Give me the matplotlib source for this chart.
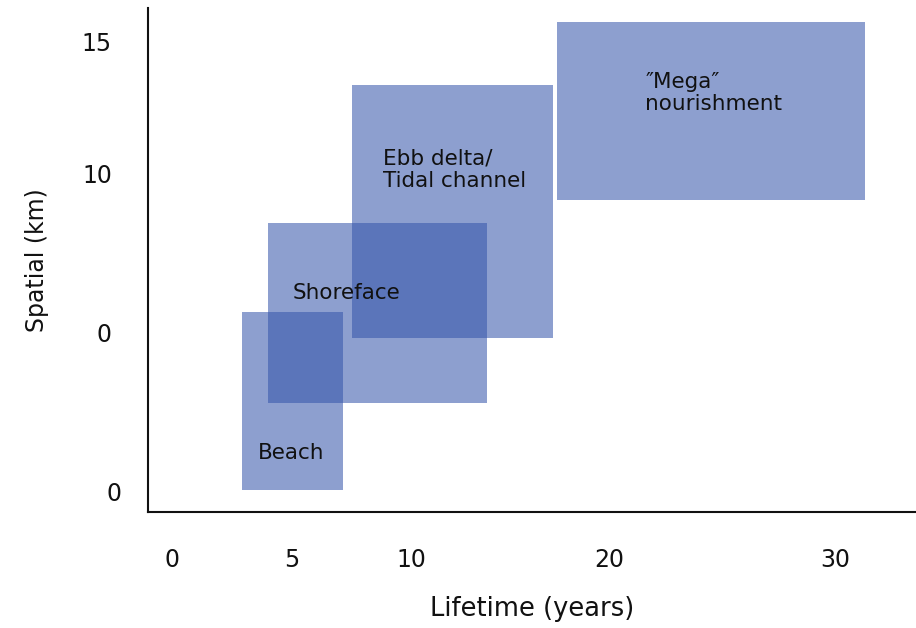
import matplotlib
matplotlib.use("Agg")
import matplotlib.pyplot as plt
import matplotlib.transforms as mtransforms
from matplotlib.patches import Rectangle

plt.rcParams['font.family'] = ['DejaVu Sans']

# Boxes: lifetime (x) and spatial (y) ranges
names = ["Beach", "Shoreface", "Ebb delta/\nTidal channel", "\u2033Mega\u2033\nnourishment"]
x_start = [2.93, 4.02, 7.53, 16.1]
x_end = [7.15, 13.18, 15.94, 29.0]
y_start = [0.07, 2.97, 5.13, 9.73]
y_end = [6.0, 8.97, 13.57, 15.67]

# where each box name is written
label_x = [3.6, 5.06, 8.83, 19.8]
label_y = [1.3, 6.63, 10.75, 13.3]

x_ticks = [0, 5, 10, 18.28, 27.74]
x_tick_labels = ["0", "5", "10", "20", "30"]
y_ticks = [0, 5.3, 10.63, 15]
y_tick_labels = ["0", "0", "10", "15"]

fill = (53 / 255, 84 / 255, 171 / 255)

fig = plt.figure(figsize=(9.16, 6.28), dpi=100)
ax = fig.add_axes([148 / 916, 116 / 628, 768 / 916, 504 / 628])

for x0, x1, y0, y1 in zip(x_start, x_end, y_start, y_end):
    ax.add_patch(Rectangle((x0, y0), x1 - x0, y1 - y0, facecolor=fill,
                           edgecolor="none", alpha=0.56))

for name, lx, ly in zip(names, label_x, label_y):
    ax.text(lx, ly, name, fontsize=15.5, ha="left", va="center",
            linespacing=1.17, color="#111111")

ax.set_xlim(-1.0, 31.13)
ax.set_ylim(-0.667, 16.133)

ax.set_xticks(x_ticks)
ax.set_xticklabels(x_tick_labels)
ax.set_yticks(y_ticks)
ax.set_yticklabels(y_tick_labels)
ax.tick_params(axis="both", length=0, labelsize=17, colors="#111111")
ax.tick_params(axis="x", pad=26)
ax.tick_params(axis="y", pad=26)

# the lowest y label sits a little further right
lowest = ax.get_yticklabels()[0]
lowest.set_transform(lowest.get_transform() +
                     mtransforms.ScaledTranslation(7 / 72, 0, fig.dpi_scale_trans))

ax.set_xlabel("Lifetime (years)", fontsize=18.5, color="#111111")
ax.set_ylabel("Spatial (km)", fontsize=17, color="#111111")
ax.xaxis.set_label_coords(0.5, -0.192)
ax.yaxis.set_label_coords(-0.1445, 0.5)
ax.xaxis.label.set_va("center")
ax.yaxis.label.set_va("center")

for side in ["top", "right"]:
    ax.spines[side].set_visible(False)
for side in ["left", "bottom"]:
    ax.spines[side].set_linewidth(1.5)
    ax.spines[side].set_color("#111111")

fig.savefig("out.png", dpi=100)
